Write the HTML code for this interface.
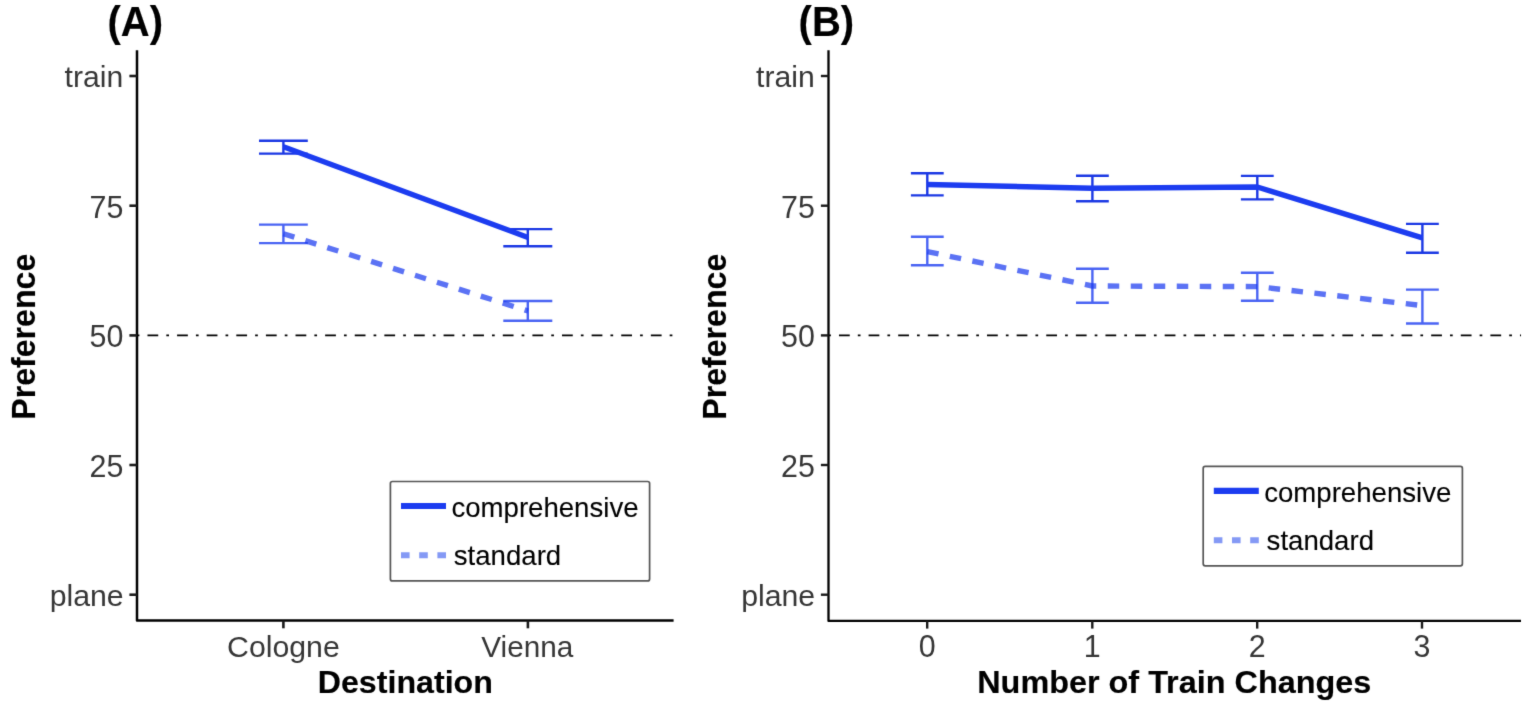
<!DOCTYPE html>
<html lang="en">
<head>
<meta charset="utf-8">
<title>Figure</title>
<style>
html,body{margin:0;padding:0;background:#fff;}
body{width:1535px;height:712px;overflow:hidden;}
svg{display:block;}
svg text{font-family:"Liberation Sans",Arial,Helvetica,sans-serif;}
</style>
</head>
<body>
<svg width="1535" height="712" viewBox="0 0 1535 712">
<defs>
<filter id="soft" x="0" y="0" width="1535" height="712" filterUnits="userSpaceOnUse" color-interpolation-filters="sRGB">
<feConvolveMatrix order="3" kernelMatrix="0.0183 0.1353 0.0183 0.1353 1 0.1353 0.0183 0.1353 0.0183" edgeMode="duplicate" preserveAlpha="true"/>
</filter>
</defs>
<g filter="url(#soft)">
<rect width="1535" height="712" fill="#fff"/>
<!-- Panel A -->
<line x1="136.7" y1="335.4" x2="673.6" y2="335.4" stroke="#000" stroke-width="1.7" stroke-dasharray="2.7 8.07 10.77 8.07"/>
<path d="M137.0 50.3V620.6H673.6" fill="none" stroke="#000" stroke-width="2.5" stroke-linejoin="round"/>
<line x1="129.4" y1="76.0" x2="137.0" y2="76.0" stroke="#1a1a1a" stroke-width="2.6"/>
<text transform="translate(123.20 87.00) scale(1.025 1.01)" text-anchor="end" font-size="29.4" fill="#363636">train</text>
<line x1="129.4" y1="205.7" x2="137.0" y2="205.7" stroke="#1a1a1a" stroke-width="2.6"/>
<text transform="translate(123.30 217.60) scale(1.035 1.09)" text-anchor="end" font-size="29.4" fill="#363636">75</text>
<line x1="129.4" y1="335.4" x2="137.0" y2="335.4" stroke="#1a1a1a" stroke-width="2.6"/>
<text transform="translate(123.30 347.30) scale(1.035 1.09)" text-anchor="end" font-size="29.4" fill="#363636">50</text>
<line x1="129.4" y1="465.0" x2="137.0" y2="465.0" stroke="#1a1a1a" stroke-width="2.6"/>
<text transform="translate(123.30 476.90) scale(1.035 1.09)" text-anchor="end" font-size="29.4" fill="#363636">25</text>
<line x1="129.4" y1="594.7" x2="137.0" y2="594.7" stroke="#1a1a1a" stroke-width="2.6"/>
<text transform="translate(123.70 606.40) scale(1.03 0.99)" text-anchor="end" font-size="29.4" fill="#363636">plane</text>
<line x1="283.4" y1="620.6" x2="283.4" y2="628.3" stroke="#1a1a1a" stroke-width="2.6"/>
<text transform="translate(283.40 656.60) scale(1.03 1.0)" text-anchor="middle" font-size="29.4" fill="#363636">Cologne</text>
<line x1="527.9" y1="620.6" x2="527.9" y2="628.3" stroke="#1a1a1a" stroke-width="2.6"/>
<text transform="translate(527.30 657.00) scale(1.012 1.03)" text-anchor="middle" font-size="29.4" fill="#363636">Vienna</text>
<text transform="translate(405.30 692.60) scale(1.006 1)" text-anchor="middle" font-size="32" font-weight="bold" fill="#000" stroke="#000" stroke-width="0.15">Destination</text>
<text transform="translate(35.10 336.70) rotate(-90) scale(1.004 1.02)" text-anchor="middle" font-size="32" font-weight="bold" fill="#000" stroke="#000" stroke-width="0.15">Preference</text>
<text transform="translate(107.50 35.60) scale(1.0 1.04)" font-size="40" font-weight="bold" fill="#000" stroke="#000" stroke-width="0.15">(A)</text>
<!-- Panel B -->
<line x1="828.2" y1="335.4" x2="1521.0" y2="335.4" stroke="#000" stroke-width="1.7" stroke-dasharray="2.7 8.07 10.77 8.07"/>
<path d="M828.5 50.3V620.9H1521.0" fill="none" stroke="#000" stroke-width="2.3" stroke-linejoin="round"/>
<line x1="820.9" y1="76.0" x2="828.5" y2="76.0" stroke="#1a1a1a" stroke-width="2.4"/>
<text transform="translate(814.70 87.00) scale(1.025 1.01)" text-anchor="end" font-size="29.4" fill="#363636">train</text>
<line x1="820.9" y1="205.7" x2="828.5" y2="205.7" stroke="#1a1a1a" stroke-width="2.4"/>
<text transform="translate(814.80 217.60) scale(1.035 1.09)" text-anchor="end" font-size="29.4" fill="#363636">75</text>
<line x1="820.9" y1="335.4" x2="828.5" y2="335.4" stroke="#1a1a1a" stroke-width="2.4"/>
<text transform="translate(814.80 347.30) scale(1.035 1.09)" text-anchor="end" font-size="29.4" fill="#363636">50</text>
<line x1="820.9" y1="465.0" x2="828.5" y2="465.0" stroke="#1a1a1a" stroke-width="2.4"/>
<text transform="translate(814.80 476.90) scale(1.035 1.09)" text-anchor="end" font-size="29.4" fill="#363636">25</text>
<line x1="820.9" y1="594.7" x2="828.5" y2="594.7" stroke="#1a1a1a" stroke-width="2.4"/>
<text transform="translate(815.20 606.40) scale(1.03 0.99)" text-anchor="end" font-size="29.4" fill="#363636">plane</text>
<line x1="927.2" y1="620.9" x2="927.2" y2="628.6" stroke="#1a1a1a" stroke-width="2.4"/>
<text transform="translate(927.20 657.00) scale(1.035 1.09)" text-anchor="middle" font-size="29.4" fill="#363636">0</text>
<line x1="1092.3" y1="620.9" x2="1092.3" y2="628.6" stroke="#1a1a1a" stroke-width="2.4"/>
<text transform="translate(1092.30 657.00) scale(1.035 1.09)" text-anchor="middle" font-size="29.4" fill="#363636">1</text>
<line x1="1257.2" y1="620.9" x2="1257.2" y2="628.6" stroke="#1a1a1a" stroke-width="2.4"/>
<text transform="translate(1257.20 657.00) scale(1.035 1.09)" text-anchor="middle" font-size="29.4" fill="#363636">2</text>
<line x1="1422.0" y1="620.9" x2="1422.0" y2="628.6" stroke="#1a1a1a" stroke-width="2.4"/>
<text transform="translate(1422.00 657.00) scale(1.035 1.09)" text-anchor="middle" font-size="29.4" fill="#363636">3</text>
<text transform="translate(1174.25 692.60) scale(1.012 1)" text-anchor="middle" font-size="32" font-weight="bold" fill="#000" stroke="#000" stroke-width="0.15">Number of Train Changes</text>
<text transform="translate(725.90 336.70) rotate(-90) scale(1.004 1.02)" text-anchor="middle" font-size="32" font-weight="bold" fill="#000" stroke="#000" stroke-width="0.15">Preference</text>
<text transform="translate(798.60 35.60) scale(1.0 1.04)" font-size="40" font-weight="bold" fill="#000" stroke="#000" stroke-width="0.15">(B)</text>
<!-- Panel A data -->
<path d="M259.0 224.6H307.8M259.0 243.1H307.8M283.4 224.6V243.1" fill="none" stroke="#1c3cf0" stroke-width="2.4" stroke-opacity="0.8"/>
<path d="M503.3 301.0H552.3M503.3 320.8H552.3M527.8 301.0V320.8" fill="none" stroke="#1c3cf0" stroke-width="2.4" stroke-opacity="0.8"/>
<path d="M283.4 233.7 L528.0 311.0" fill="none" stroke="#1c3cf0" stroke-width="5.4" stroke-linejoin="round" stroke-dasharray="11.5 11.5" stroke-opacity="0.72"/>
<path d="M259.0 140.7H307.8M259.0 153.6H307.8M283.4 140.7V153.6" fill="none" stroke="#1a37e4" stroke-width="2.4"/>
<path d="M503.3 229.1H552.3M503.3 246.2H552.3M527.8 229.1V246.2" fill="none" stroke="#1a37e4" stroke-width="2.4"/>
<path d="M283.4 146.8 L528.0 237.5" fill="none" stroke="#1c3cf0" stroke-width="5.4" stroke-linejoin="round"/>
<rect x="390.4" y="481.5" width="259.2" height="99.4" rx="2" fill="#fff" stroke="#555" stroke-width="1.7"/>
<line x1="401.0" y1="506.0" x2="446.0" y2="506.0" stroke="#1c3cf0" stroke-width="6.1"/>
<line x1="401.0" y1="555.3" x2="446.0" y2="555.3" stroke="#8499f5" stroke-width="6.1" stroke-dasharray="8.6 9.6"/>
<text transform="translate(451.40 517.20)" font-size="27.6" fill="#000" stroke="#000" stroke-width="0.1">comprehensive</text>
<text transform="translate(453.80 565.00)" font-size="27.6" fill="#000" stroke="#000" stroke-width="0.1">standard</text>
<!-- Panel B data -->
<path d="M910.9 236.7H943.7M910.9 265.3H943.7M927.3 236.7V265.3" fill="none" stroke="#1c3cf0" stroke-width="2.4" stroke-opacity="0.8"/>
<path d="M1076.0 268.7H1108.8M1076.0 302.8H1108.8M1092.4 268.7V302.8" fill="none" stroke="#1c3cf0" stroke-width="2.4" stroke-opacity="0.8"/>
<path d="M1240.9 272.8H1273.7M1240.9 300.8H1273.7M1257.3 272.8V300.8" fill="none" stroke="#1c3cf0" stroke-width="2.4" stroke-opacity="0.8"/>
<path d="M1406.0 289.6H1438.8M1406.0 323.5H1438.8M1422.4 289.6V323.5" fill="none" stroke="#1c3cf0" stroke-width="2.4" stroke-opacity="0.8"/>
<path d="M927.3 251.6 L1092.4 286.0 L1257.3 286.6 L1422.4 305.6" fill="none" stroke="#1c3cf0" stroke-width="5.4" stroke-linejoin="round" stroke-dasharray="11.5 11.5" stroke-opacity="0.72"/>
<path d="M910.9 173.2H943.7M910.9 195.4H943.7M927.3 173.2V195.4" fill="none" stroke="#1a37e4" stroke-width="2.4"/>
<path d="M1076.0 175.8H1108.8M1076.0 201.3H1108.8M1092.4 175.8V201.3" fill="none" stroke="#1a37e4" stroke-width="2.4"/>
<path d="M1240.9 175.9H1273.7M1240.9 199.4H1273.7M1257.3 175.9V199.4" fill="none" stroke="#1a37e4" stroke-width="2.4"/>
<path d="M1406.0 223.9H1438.8M1406.0 252.8H1438.8M1422.4 223.9V252.8" fill="none" stroke="#1a37e4" stroke-width="2.4"/>
<path d="M927.3 184.5 L1092.4 188.2 L1257.3 187.0 L1422.4 237.8" fill="none" stroke="#1c3cf0" stroke-width="5.4" stroke-linejoin="round"/>
<rect x="1203.2" y="466.4" width="259.2" height="99.4" rx="2" fill="#fff" stroke="#555" stroke-width="1.7"/>
<line x1="1213.8" y1="490.9" x2="1258.8" y2="490.9" stroke="#1c3cf0" stroke-width="6.1"/>
<line x1="1213.8" y1="540.2" x2="1258.8" y2="540.2" stroke="#8499f5" stroke-width="6.1" stroke-dasharray="8.6 9.6"/>
<text transform="translate(1264.20 502.10)" font-size="27.6" fill="#000" stroke="#000" stroke-width="0.1">comprehensive</text>
<text transform="translate(1266.60 549.90)" font-size="27.6" fill="#000" stroke="#000" stroke-width="0.1">standard</text>
</g>
</svg>
</body>
</html>
